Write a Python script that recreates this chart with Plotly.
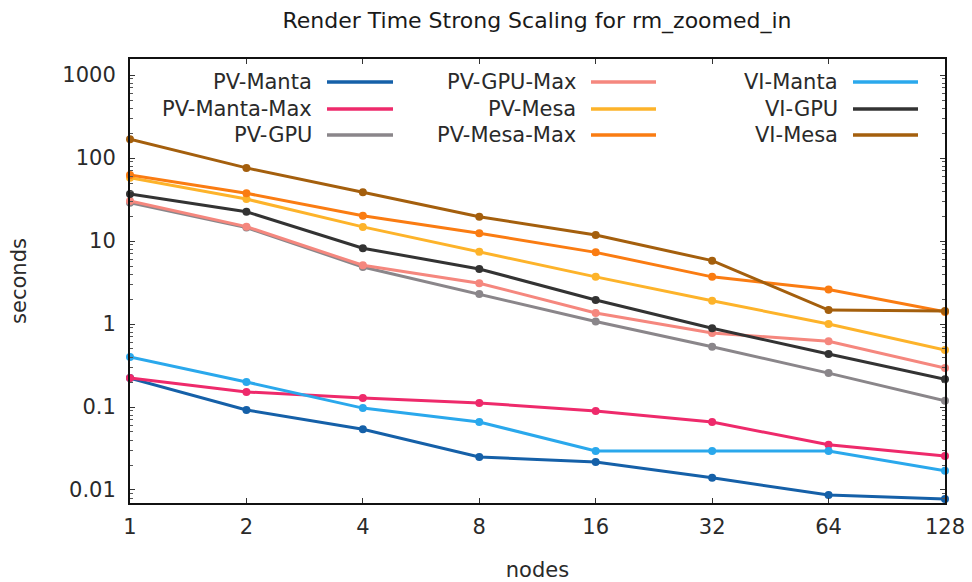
import plotly.graph_objects as go
import math

nodes = [1, 2, 4, 8, 16, 32, 64, 128]
x_ticktext = ["1", "2", "4", "8", "16", "32", "64", "128"]
y_tickvals = [0.01, 0.1, 1, 10, 100, 1000]
y_ticktext = ["0.01", "0.1", "1", "10", "100", "1000"]

pv_manta = [0.223, 0.092, 0.054, 0.025, 0.0217, 0.014, 0.0087, 0.0078]
pv_manta_max = [0.223, 0.152, 0.128, 0.112, 0.0895, 0.066, 0.035, 0.0257]
pv_gpu = [29.0, 14.5, 4.87, 2.3, 1.07, 0.533, 0.256, 0.119]
pv_gpu_max = [30.3, 14.9, 5.1, 3.1, 1.36, 0.78, 0.62, 0.295]
pv_mesa = [58.0, 32.0, 14.8, 7.4, 3.7, 1.91, 1.0, 0.486]
pv_mesa_max = [62.4, 37.6, 20.2, 12.4, 7.3, 3.7, 2.6, 1.40]
vi_manta = [0.40, 0.20, 0.097, 0.066, 0.0295, 0.0295, 0.0295, 0.017]
vi_gpu = [36.8, 22.5, 8.2, 4.6, 1.95, 0.89, 0.435, 0.216]
vi_mesa = [168.0, 76.0, 38.6, 19.6, 11.8, 5.8, 1.47, 1.43]

series = [
    ("PV-Manta", pv_manta, "#1560a8"),
    ("PV-Manta-Max", pv_manta_max, "#ee2a6b"),
    ("PV-GPU", pv_gpu, "#8a868a"),
    ("PV-GPU-Max", pv_gpu_max, "#f5877e"),
    ("PV-Mesa", pv_mesa, "#fdb32a"),
    ("PV-Mesa-Max", pv_mesa_max, "#fa7c12"),
    ("VI-Manta", vi_manta, "#2aa8ec"),
    ("VI-GPU", vi_gpu, "#333333"),
    ("VI-Mesa", vi_mesa, "#a45f0d"),
]

W, H = 972, 582
L, R, T, B = 130, 27, 59, 79
FONT = "DejaVu Sans"
TXT = "#2a2a2a"

fig = go.Figure()
for name, vals, col in series:
    fig.add_trace(go.Scatter(
        x=nodes, y=vals, name=name, mode="lines+markers",
        line=dict(color=col, width=3),
        marker=dict(color=col, size=8, symbol="circle"),
        cliponaxis=False, showlegend=False,
    ))

# custom legend (text right-aligned, sample line on the right), 3 columns x 3 rows
pw, ph = W - L - R, H - T - B
def px(x):
    return (x - L) / pw
def py(y):
    return (H - B - y) / ph

row_y = [82, 109, 135]
cols = [(314, 327, 393), (578, 591, 656), (840, 853, 918)]
annotations = []
shapes = []
for i, (name, vals, col) in enumerate(series):
    c, r = divmod(i, 3)
    tx, lx0, lx1 = cols[c]
    yy = row_y[r]
    annotations.append(dict(
        x=px(tx), y=py(yy), xref="paper", yref="paper", text=name,
        showarrow=False, xanchor="right", yanchor="middle",
        font=dict(family=FONT, size=21, color=TXT),
    ))
    shapes.append(dict(
        type="line", xref="paper", yref="paper",
        x0=px(lx0), x1=px(lx1), y0=py(yy), y1=py(yy),
        line=dict(color=col, width=3.5),
    ))

fig.update_layout(
    width=W, height=H,
    margin=dict(l=L, r=R, t=T, b=B, autoexpand=False),
    paper_bgcolor="white", plot_bgcolor="white",
    font=dict(family=FONT, color=TXT),
    title=dict(text="Render Time Strong Scaling for rm_zoomed_in",
               x=(278 + 796) / 2 / W, xanchor="center", y=1 - 20 / H, yanchor="middle",
               font=dict(family=FONT, size=22, color="#1a1a1a")),
    annotations=annotations, shapes=shapes,
)
fig.update_xaxes(
    type="log", range=[0, math.log10(128)], automargin=False,
    tickvals=nodes, ticktext=x_ticktext,
    ticks="inside", ticklen=5, tickcolor="#333333",
    showline=True, linecolor="#111111", linewidth=2, mirror="allticks",
    showgrid=False, zeroline=False,
    tickfont=dict(family=FONT, size=21, color=TXT),
    ticklabelstandoff=4,
    title=dict(text="nodes", font=dict(family=FONT, size=21, color=TXT), standoff=24),
)
fig.update_yaxes(
    type="log", range=[math.log10(0.00697), math.log10(1560)], automargin=False,
    tickvals=y_tickvals, ticktext=y_ticktext,
    ticks="inside", ticklen=5, tickcolor="#333333",
    minor=dict(ticks="inside", ticklen=3, tickcolor="#555555", dtick="D1", showgrid=False),
    showline=True, linecolor="#111111", linewidth=2, mirror="allticks",
    showgrid=False, zeroline=False,
    tickfont=dict(family=FONT, size=21, color=TXT),
    ticklabelstandoff=8,
    title=dict(text="seconds", font=dict(family=FONT, size=21, color=TXT), standoff=30),
)

fig.write_html("out.html")
